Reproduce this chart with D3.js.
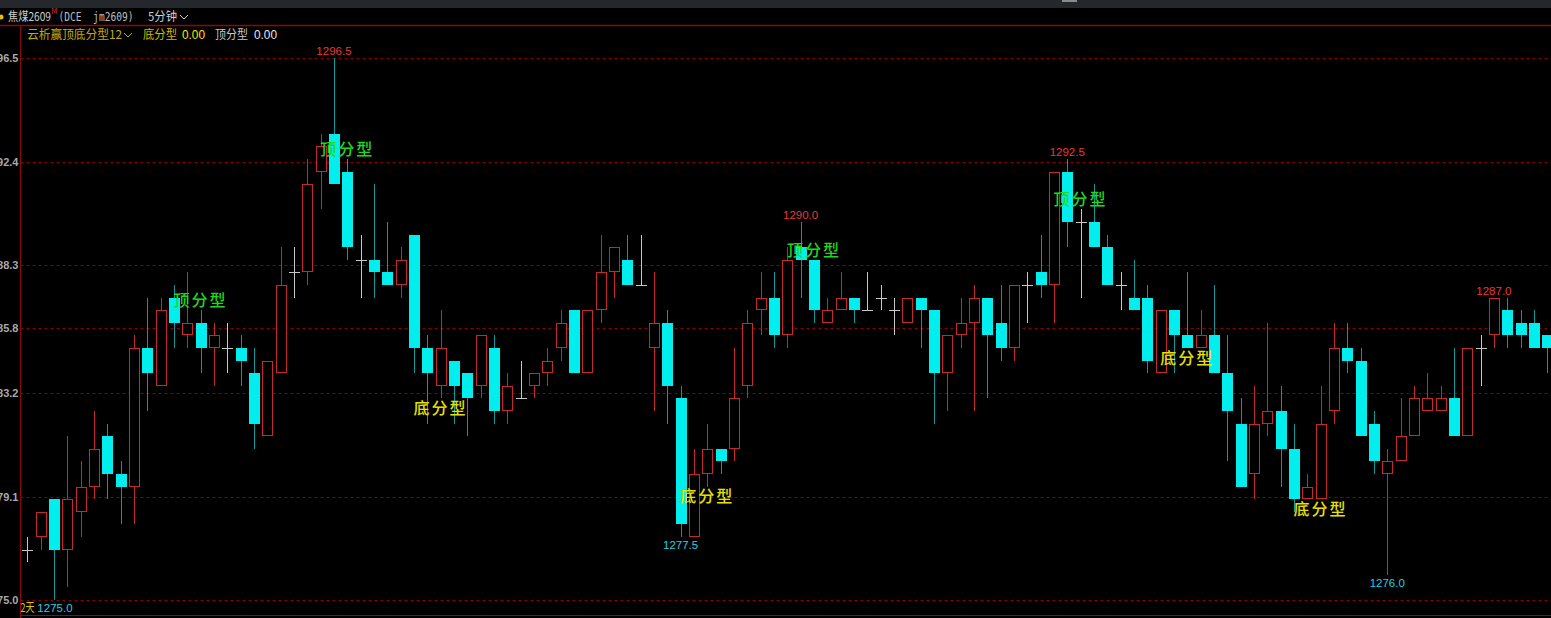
<!DOCTYPE html>
<html>
<head>
<meta charset="utf-8">
<script src="https://cdn.jsdelivr.net/npm/d3@7/dist/d3.min.js"></script>
<style>
  html, body { margin: 0; padding: 0; background: #000; overflow: hidden; }
  svg { display: block; }
</style>
</head>
<body>
<svg id="chart" width="1551" height="618"></svg>
<script>
// 焦煤2609 5分钟 K线 + 顶底分型标注

// OHLC per 5-min bar, left to right
const opens = [
  1277, 1277.5, 1279, 1277, 1278.5, 1279.5, 1281.5, 1280, 1279.5, 1285,
  1283.5, 1287, 1285.5, 1286, 1285, 1285, 1285, 1284, 1281.5, 1284,
  1288, 1288, 1292, 1293.5, 1292, 1288.5, 1288.5, 1288, 1287.5, 1289.5,
  1285, 1283.5, 1284.5, 1284, 1283.5, 1285, 1282.5, 1283, 1283.5, 1284,
  1285, 1286.5, 1284, 1286.5, 1288, 1288.5, 1287.5, 1285, 1286, 1283,
  1277.5, 1280, 1281, 1281, 1283.5, 1286.5, 1287, 1285.5, 1289, 1288.5,
  1286, 1286.5, 1287, 1286.5, 1287, 1286.5, 1286, 1287, 1286.5, 1284,
  1285.5, 1286, 1287, 1286, 1285, 1287.5, 1288, 1287.5, 1292, 1290,
  1290, 1289, 1287.5, 1287, 1287, 1284, 1286.5, 1285.5, 1285, 1285.5,
  1284, 1282, 1280, 1282, 1282.5, 1281, 1279, 1279, 1282.5, 1285,
  1284.5, 1282, 1280, 1280.5, 1281.5, 1282.5, 1282.5, 1283, 1281.5, 1285,
  1285.5, 1286.5, 1286, 1286, 1285.5
];
const highs = [
  1277.5, 1278.5, 1279, 1281.5, 1280.5, 1282.5, 1282, 1280.5, 1285.5, 1287,
  1287, 1287.5, 1288, 1286.5, 1286, 1286, 1285.5, 1285, 1284.5, 1289,
  1289, 1292.5, 1293.5, 1296.5, 1292.5, 1289.5, 1291.5, 1290, 1289, 1289.5,
  1285.5, 1286.5, 1284.5, 1284, 1285.5, 1285.5, 1284, 1284.5, 1284, 1285,
  1286.5, 1286.5, 1286.5, 1289.5, 1289, 1289.5, 1289.5, 1288, 1286.5, 1283.5,
  1281, 1282, 1281, 1285, 1286.5, 1288, 1288, 1289, 1290, 1288.5,
  1287, 1288, 1287, 1288, 1287.5, 1287, 1287, 1287, 1286.5, 1285.5,
  1287, 1287.5, 1287, 1287.5, 1287.5, 1288, 1289.5, 1292, 1292.5, 1290.5,
  1291.5, 1289.5, 1288, 1288.5, 1287.5, 1286.5, 1286.5, 1288, 1286.5, 1287.5,
  1285.5, 1283, 1283.5, 1286, 1283.5, 1282, 1280, 1283.5, 1286, 1286,
  1285, 1282.5, 1281, 1283, 1283.5, 1284, 1283.5, 1285, 1285, 1285.5,
  1287, 1287, 1286.5, 1286.5, 1285.5
];
const lows = [
  1276.5, 1277, 1275, 1275.5, 1277.5, 1279, 1279, 1278, 1278, 1282.5,
  1283.5, 1285, 1285, 1284, 1283.5, 1284, 1283.5, 1281, 1281.5, 1284,
  1287, 1287.5, 1290.5, 1291.5, 1288.5, 1287, 1287, 1287.5, 1287, 1284,
  1282, 1283, 1282, 1281.5, 1283, 1282, 1282, 1283, 1283, 1283.5,
  1284.5, 1284, 1284, 1286, 1287, 1287.5, 1287.5, 1282.5, 1282, 1277.5,
  1277.5, 1279.5, 1280, 1280.5, 1283, 1285.5, 1285, 1285, 1287, 1286,
  1286, 1286.5, 1286, 1286.5, 1286.5, 1285.5, 1286, 1285, 1282, 1282.5,
  1285, 1282.5, 1283, 1284.5, 1284.5, 1286, 1287, 1286, 1289, 1287,
  1289, 1287.5, 1286.5, 1286.5, 1284, 1284, 1284, 1285, 1285, 1284,
  1280.5, 1279.5, 1279, 1281.5, 1279.5, 1278.5, 1279, 1279, 1282, 1284,
  1281.5, 1280, 1276, 1280.5, 1281.5, 1282.5, 1282.5, 1281.5, 1281.5, 1283.5,
  1285, 1285, 1285, 1285, 1284
];
const closes = [
  1277, 1278.5, 1277, 1279, 1279.5, 1281, 1280, 1279.5, 1285, 1284,
  1286.5, 1286, 1286, 1285, 1285.5, 1285, 1284.5, 1282, 1284.5, 1287.5,
  1288, 1291.5, 1293, 1291.5, 1289, 1288.5, 1288, 1287.5, 1288.5, 1285,
  1284, 1285, 1283.5, 1283, 1285.5, 1282.5, 1283.5, 1283, 1284, 1284.5,
  1286, 1284, 1286.5, 1288, 1289, 1287.5, 1287.5, 1286, 1283.5, 1278,
  1280, 1281, 1280.5, 1283, 1286, 1287, 1285.5, 1288.5, 1288.5, 1286.5,
  1286.5, 1287, 1286.5, 1286.5, 1287, 1286.5, 1287, 1286.5, 1284, 1285.5,
  1286, 1287, 1285.5, 1285, 1287.5, 1287.5, 1287.5, 1292, 1290, 1290,
  1289, 1287.5, 1287.5, 1286.5, 1284.5, 1286.5, 1285.5, 1285, 1285.5, 1284,
  1282.5, 1279.5, 1282, 1282.5, 1281, 1279, 1279.5, 1282, 1285, 1284.5,
  1281.5, 1280.5, 1280.5, 1281.5, 1283, 1283, 1283, 1281.5, 1285, 1285,
  1287, 1285.5, 1285.5, 1285, 1285
];

// y axis ticks as printed on the left edge
const yTicks = [1275.0, 1279.1, 1283.2, 1285.8, 1288.3, 1292.4, 1296.5];

// visible-range extremes that get a price tag
const markIndex = [23, 58, 78, 110, 49, 102, 2];
const markKind = ["high", "high", "high", "high", "low", "low", "low"];

// fractal labels: bar index the text is centred on, price level, text
const patternIndex = [13, 24, 59, 79, 31, 51, 87, 97];
const patternPrice = [1286.9, 1292.9, 1288.9, 1290.9, 1282.6, 1279.1, 1284.6, 1278.6];
const patternText = ["顶分型", "顶分型", "顶分型", "顶分型", "底分型", "底分型", "底分型", "底分型"];

// colours
const UP = "#c42a2a";
const DOWN = "#00eeee";
const DOWN_WICK = "#0a9a9a";
const FLAT = "#c8c8c8";
const GRID = "#8a0000";
const FRAME = "#8c0a0a";

const W = 1551, H = 618;
const svg = d3.select("#chart");
const plotLeft = 20.5;

// background + top strip
svg.append("rect").attr("width", W).attr("height", H).attr("fill", "#000");
svg.append("rect").attr("width", W).attr("height", 8).attr("fill", "#24282d");
svg.append("rect").attr("x", 1062).attr("y", 0).attr("width", 15).attr("height", 2).attr("fill", "#8a8a8a");

// scales
const n = opens.length;
const x = d3.scaleLinear().domain([0, n - 1]).range([27.3, 27.3 + 13.333 * (n - 1)]);
const y = d3.scaleLinear().domain([1275, 1296.5]).range([600, 58.3]);

// grid
svg.append("g")
  .selectAll("line")
  .data(yTicks)
  .join("line")
  .attr("x1", plotLeft)
  .attr("x2", W)
  .attr("y1", (d) => Math.round(y(d)) + 0.5)
  .attr("y2", (d) => Math.round(y(d)) + 0.5)
  .attr("stroke", GRID)
  .attr("stroke-dasharray", "3,3");

// y axis labels (clipped by left edge, like the original)
const yAxis = d3.axisLeft(y).tickValues(yTicks).tickFormat(d3.format(".1f")).tickSize(0).tickPadding(2);
const yAxisG = svg.append("g").attr("transform", `translate(${plotLeft},0)`).call(yAxis);
yAxisG.select(".domain").remove();
yAxisG.selectAll("text")
  .attr("fill", "#a9a9a9")
  .attr("font-size", 11)
  .attr("font-weight", "bold")
  .attr("font-family", "Liberation Sans, Arial, sans-serif");

// frame lines
svg.append("line").attr("x1", 0).attr("x2", W).attr("y1", 25.5).attr("y2", 25.5).attr("stroke", FRAME).attr("stroke-width", 1.5);
svg.append("line").attr("x1", plotLeft).attr("x2", plotLeft).attr("y1", 25).attr("y2", H).attr("stroke", FRAME);
svg.append("line").attr("x1", plotLeft).attr("x2", W).attr("y1", 615.5).attr("y2", 615.5).attr("stroke", FRAME);

// candles
const candles = opens.map((o, i) => ({ i, o, h: highs[i], l: lows[i], c: closes[i] }));
const cg = svg.append("g");

const bars = cg.selectAll("g.candle").data(candles).join("g").attr("class", "candle");

bars.each(function (d) {
  const el = d3.select(this);
  const px = Math.round(x(d.i));
  const cx = px + 0.5;
  const top = Math.round(y(Math.max(d.o, d.c)));
  const bot = Math.round(y(Math.min(d.o, d.c)));
  const kind = d.c > d.o ? "up" : d.c < d.o ? "down" : "flat";
  const wickColor = kind === "up" ? UP : kind === "down" ? DOWN_WICK : FLAT;

  if (kind === "flat") {
    el.append("line")
      .attr("x1", cx).attr("x2", cx)
      .attr("y1", Math.round(y(d.h))).attr("y2", Math.round(y(d.l)))
      .attr("stroke", wickColor);
    el.append("line")
      .attr("x1", px - 5).attr("x2", px + 6)
      .attr("y1", top + 0.5).attr("y2", top + 0.5)
      .attr("stroke", wickColor);
    return;
  }

  // wicks
  el.append("line")
    .attr("x1", cx).attr("x2", cx)
    .attr("y1", Math.round(y(d.h))).attr("y2", top)
    .attr("stroke", wickColor);
  el.append("line")
    .attr("x1", cx).attr("x2", cx)
    .attr("y1", bot).attr("y2", Math.round(y(d.l)))
    .attr("stroke", wickColor);

  if (kind === "up") {
    el.append("rect")
      .attr("x", px - 4.5)
      .attr("y", top + 0.5)
      .attr("width", 10)
      .attr("height", Math.max(0, bot - top - 1))
      .attr("fill", "#000")
      .attr("stroke", UP);
  } else {
    el.append("rect")
      .attr("x", px - 5)
      .attr("y", top)
      .attr("width", 11)
      .attr("height", Math.max(1, bot - top))
      .attr("fill", DOWN);
  }
});

// extreme price tags
const numFont = "Liberation Sans, Arial, sans-serif";
svg.append("g")
  .selectAll("text")
  .data(markIndex.map((idx, k) => ({ idx, kind: markKind[k] })))
  .join("text")
  .attr("x", (d) => x(d.idx) + (d.idx === 2 ? 1 : 0))
  .attr("y", (d) => (d.kind === "high" ? y(highs[d.idx]) - 3 : y(lows[d.idx]) + 12))
  .attr("text-anchor", "middle")
  .attr("font-family", numFont)
  .attr("font-size", 11.5)
  .attr("fill", (d) => (d.kind === "high" ? "#e8383a" : "#1ed2e6"))
  .text((d) => (d.kind === "high" ? highs[d.idx] : lows[d.idx]).toFixed(1));

// fractal labels
const cjk = "Noto Sans CJK SC, sans-serif";
svg.append("g")
  .selectAll("text")
  .data(patternIndex.map((idx, k) => ({ idx, p: patternPrice[k], t: patternText[k] })))
  .join("text")
  .attr("x", (d) => x(d.idx))
  .attr("y", (d) => y(d.p))
  .attr("dy", "0.36em")
  .attr("text-anchor", "middle")
  .attr("font-family", cjk)
  .attr("font-size", 16)
  .attr("font-weight", 500)
  .attr("letter-spacing", 2)
  .attr("fill", (d) => (d.t === "顶分型" ? "#1fd81f" : "#e8e000"))
  .text((d) => d.t);

// header text helper: fixed start and width so glyph metrics don't drift
const head = svg.append("g").attr("font-family", cjk).attr("font-size", 12);
function label(txt, x0, y0, w, fill, family) {
  return head.append("text")
    .attr("x", x0)
    .attr("y", y0)
    .attr("fill", fill)
    .attr("font-family", family || cjk)
    .attr("textLength", w)
    .attr("lengthAdjust", "spacingAndGlyphs")
    .attr("xml:space", "preserve")
    .text(txt);
}

// header row 1
head.append("circle").attr("cx", 1).attr("cy", 17).attr("r", 2.5).attr("fill", "#e0c000");
label("焦煤2609", 8, 21, 43, "#cfcfcf");
head.append("text").attr("x", 51.5).attr("y", 14).attr("font-size", 7).attr("fill", "#e03030").text("M");
label("(DCE  jm2609)", 58.5, 21, 75, "#bdbdbd", "DejaVu Sans Mono, monospace");
label("5分钟", 148, 21, 29, "#cfcfcf");
head.append("path").attr("d", "M180,15 L184,19 L188,15").attr("fill", "none").attr("stroke", "#cfcfcf");

// header row 2 (indicator line)
label("云析赢顶底分型12", 27, 39, 95, "#c0ac10");
head.append("path").attr("d", "M124,33 L128,37 L132,33").attr("fill", "none").attr("stroke", "#c0ac10");
label("底分型", 143, 39, 34, "#d2b800");
label("0.00", 182, 39, 23, "#ffe400", numFont);
label("顶分型", 215, 39, 33, "#c8c8c8");
label("0.00", 254, 39, 23, "#e8e8e8", numFont);

// bottom-left period tag
label("2天", 20.5, 612, 14, "#d8c400");
</script>
</body>
</html>
